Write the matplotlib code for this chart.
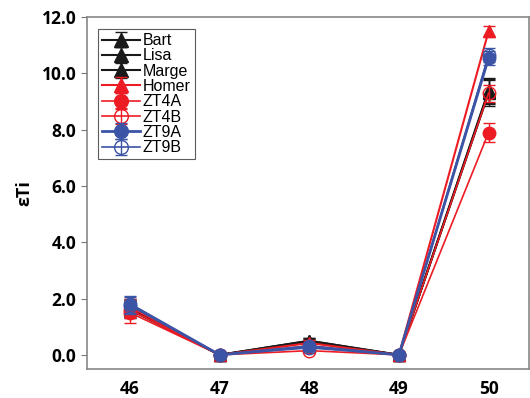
import matplotlib
matplotlib.use("Agg")
import matplotlib.pyplot as plt

mass = [46, 47, 48, 49, 50]
series_names = ["Bart", "Lisa", "Marge", "Homer", "ZT4A", "ZT4B", "ZT9A", "ZT9B"]
bart = [1.60, 0.0, 0.50, 0.0, 9.30]
lisa = [1.65, 0.0, 0.45, 0.0, 9.40]
marge = [1.70, 0.0, 0.50, 0.0, 9.35]
homer = [1.70, 0.0, 0.42, 0.0, 11.50]
zt4a = [1.50, 0.0, 0.32, 0.0, 7.90]
zt4b = [1.60, 0.0, 0.15, 0.0, 9.30]
zt9a = [1.80, 0.0, 0.30, 0.0, 10.55]
zt9b = [1.75, 0.0, 0.25, 0.0, 10.65]
err_bart = [0.30, 0.0, 0.10, 0.0, 0.45]
err_lisa = [0.30, 0.0, 0.10, 0.0, 0.45]
err_marge = [0.30, 0.0, 0.10, 0.0, 0.45]
err_homer = [0.30, 0.0, 0.10, 0.0, 0.20]
err_zt4a = [0.35, 0.0, 0.10, 0.0, 0.35]
err_zt4b = [0.30, 0.0, 0.10, 0.0, 0.30]
err_zt9a = [0.30, 0.0, 0.10, 0.0, 0.25]
err_zt9b = [0.30, 0.0, 0.10, 0.0, 0.25]
y_ticks = [0.0, 2.0, 4.0, 6.0, 8.0, 10.0, 12.0]

RED = "#ed1c24"
BLUE = "#3b54a5"
BLK = "#1a1a1a"

fig = plt.figure(figsize=(5.30, 3.98), dpi=100)
ax = fig.add_axes([0.164, 0.073, 0.834, 0.884])

styles = [
    (bart, err_bart, dict(color=BLK, marker="^", mfc=BLK, lw=1.5, z=3)),
    (lisa, err_lisa, dict(color=BLK, marker="^", mfc=BLK, lw=1.5, z=3)),
    (marge, err_marge, dict(color=BLK, marker="^", mfc=BLK, lw=1.5, z=3)),
    (homer, err_homer, dict(color=RED, marker="^", mfc=RED, lw=1.5, z=4)),
    (zt4a, err_zt4a, dict(color=RED, marker="o", mfc=RED, lw=1.2, z=4)),
    (zt4b, err_zt4b, dict(color=RED, marker="o", mfc="none", lw=1.2, z=4)),
    (zt9a, err_zt9a, dict(color=BLUE, marker="o", mfc=BLUE, lw=2.0, z=5)),
    (zt9b, err_zt9b, dict(color=BLUE, marker="o", mfc="none", lw=1.2, z=5)),
]
for name, (vals, errs, st) in zip(series_names, styles):
    ax.errorbar(mass, vals, yerr=errs, color=st["color"], marker=st["marker"],
                mfc=st["mfc"], mec=st["color"], ms=9, lw=st["lw"],
                elinewidth=1.0, capsize=4, capthick=1.0, label=name,
                zorder=st["z"])

ax.set_xlim(45.52, 50.45)
ax.set_ylim(-0.5, 12.0)
ax.set_xticks(mass)
ax.set_yticks(y_ticks)
ax.set_yticklabels([f"{v:.1f}" for v in y_ticks])
for lab in ax.get_xticklabels() + ax.get_yticklabels():
    lab.set_fontweight("bold")
    lab.set_fontsize(12.5)
    lab.set_family("Open Sans")
ax.tick_params(axis="x", length=0, pad=8)
ax.tick_params(axis="y", direction="out", length=4, color="#777777", right=True)
ax.set_ylabel("εTi", fontsize=13, fontweight="bold", family="Open Sans", labelpad=6)
for s in ax.spines.values():
    s.set_color("#888888")
    s.set_linewidth(1.2)

leg = ax.legend(loc="upper left", bbox_to_anchor=(0.018, 0.975), frameon=True,
                fancybox=False, edgecolor="#333333", fontsize=11.5,
                handlelength=2.4, handletextpad=0.15, labelspacing=0.02,
                borderpad=0.25, borderaxespad=0.2, markerscale=1.1)
leg.get_frame().set_linewidth(0.8)
for t in leg.get_texts():
    t.set_family("Liberation Sans")

fig.savefig("out.png", dpi=100)
